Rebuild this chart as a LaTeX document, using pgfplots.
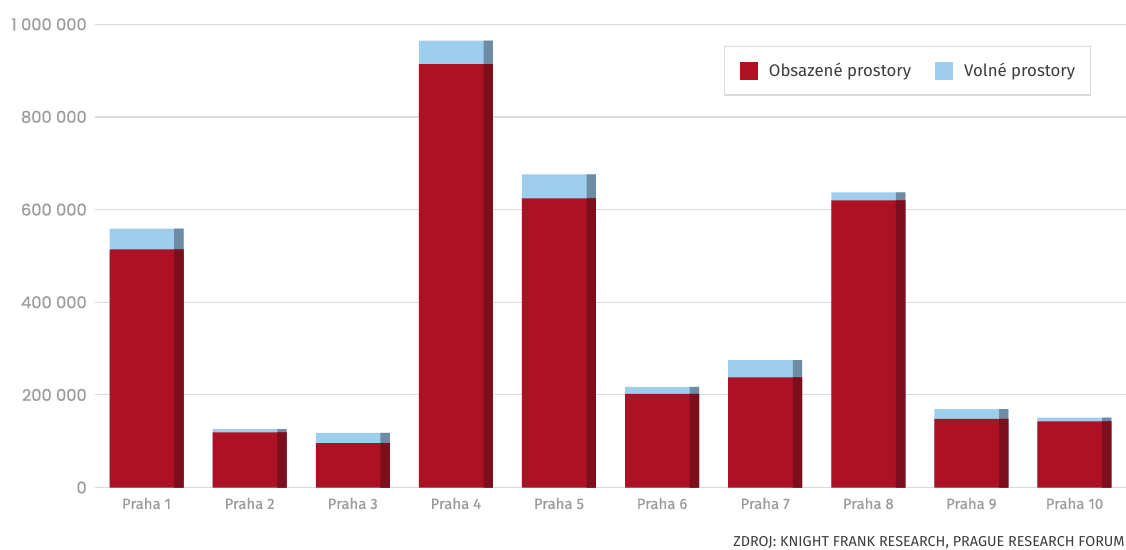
\documentclass[border=0pt]{standalone}
\usepackage{pgfplots}
\pgfplotsset{compat=1.18}
\usepackage{pgfplotstable}
\usepackage{fontspec}
\setmainfont{Fira Sans}
\newfontfamily\numfont{Poppins}[FakeBold=0.4]
\newfontfamily\tickfont{Fira Sans}[FakeBold=0.5]
\definecolor{occ}{RGB}{172,18,36}
\definecolor{occdark}{RGB}{125,14,27}
\definecolor{vac}{RGB}{158,206,238}
\definecolor{vacdark}{RGB}{110,141,165}
\definecolor{gridc}{RGB}{218,218,218}
\definecolor{tickc}{RGB}{155,155,155}
\definecolor{txtc}{RGB}{60,60,60}

\pgfplotstableread{
x occ vac
0 514000 45000
1 119000 7000
2 96000 22000
3 914000 51000
4 624000 52000
5 202000 15000
6 238000 37000
7 620000 17000
8 148000 21000
9 143000 8000
}\data

\begin{document}
\begin{tikzpicture}
\useasboundingbox (-71.25pt,-46.125pt) rectangle (773.25pt,365.625pt);
\begin{axis}[
  at={(0pt,0pt)}, anchor=south west,
  scale only axis, width=773.25pt, height=347.4pt,
  xmin=-0.5, xmax=9.5, ymin=0, ymax=1000000,
  ytick={0,200000,400000,600000,800000,1000000},
  yticklabels={0,200 000,400 000,600 000,800 000,1 000 000},
  scaled y ticks=false,
  ymajorgrids, grid style={gridc, line width=0.9pt},
  axis line style={draw=none}, major tick length=0pt,
  xtick={0,...,9},
  xticklabels={Praha 1,Praha 2,Praha 3,Praha 4,Praha 5,Praha 6,Praha 7,Praha 8,Praha 9,Praha 10},
  yticklabel style={font=\numfont\fontsize{12.2}{14}\selectfont, color=tickc, inner sep=0pt, xshift=-6pt},
  xticklabel style={font=\tickfont\fontsize{11.2}{13}\selectfont, color=tickc, inner sep=0pt, anchor=north, yshift=-7.5pt},
  legend columns=2,
  legend style={at={(0.966,0.953)}, anchor=north east, draw=gridc, line width=0.8pt,
    font=\fontsize{12.6}{14}\selectfont, text=txtc, inner xsep=11.4pt, inner ysep=11.4pt,
    nodes={inner sep=0pt},
    /tikz/every odd column/.append style={column sep=8.25pt},
    /tikz/every even column/.append style={column sep=18pt}},
  legend image code/.code={\fill[#1] (0pt,-6.75pt) rectangle (13.5pt,6.75pt);},
]
\addplot[ybar, bar width=55.5pt, bar shift=0pt, fill=vac, draw=none, forget plot]
  table[x=x, y expr=\thisrow{occ}+\thisrow{vac}] {\data};
\addplot[ybar, bar width=7pt, bar shift=24.25pt, fill=vacdark, draw=none, forget plot]
  table[x=x, y expr=\thisrow{occ}+\thisrow{vac}] {\data};
\addplot[ybar, bar width=55.5pt, bar shift=0pt, fill=occ, draw=none, forget plot]
  table[x=x, y=occ] {\data};
\addplot[ybar, bar width=7pt, bar shift=24.25pt, fill=occdark, draw=none, forget plot]
  table[x=x, y=occ] {\data};
\addlegendimage{fill=occ, draw=none}
\addlegendentry{Obsazené prostory}
\addlegendimage{fill=vac, draw=none}
\addlegendentry{Volné prostory}
\end{axis}
\node[anchor=base west, inner sep=0pt, font=\fontsize{10.8}{12}\selectfont, text=txtc] at (478.5pt,-44.6pt) {ZDROJ: KNIGHT FRANK RESEARCH, PRAGUE RESEARCH FORUM};
\end{tikzpicture}
\end{document}
